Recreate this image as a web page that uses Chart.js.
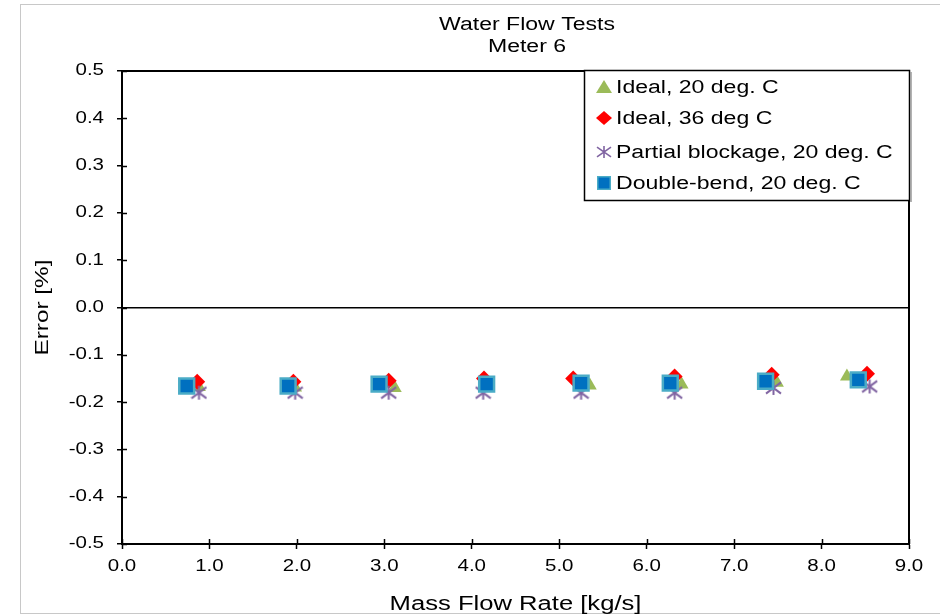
<!DOCTYPE html>
<html>
<head>
<meta charset="utf-8">
<script src="https://cdn.jsdelivr.net/npm/chart.js"></script>
<style>
  body { margin: 0; background: #fff; }
  #wrap { width: 940px; height: 616px; }
</style>
</head>
<body>
<div id="wrap"><canvas id="flowChart" width="940" height="616"></canvas></div>
<script>
// values
const seriesNames = ["Ideal, 20 deg. C", "Ideal, 36 deg C", "Partial blockage, 20 deg. C", "Double-bend, 20 deg. C"];

const ideal20X = [0.88, 1.98, 3.12, 4.15, 5.35, 6.40, 7.49, 8.29];
const ideal20Y = [-0.168, -0.169, -0.170, -0.165, -0.165, -0.163, -0.159, -0.146];

const ideal36X = [0.86, 1.96, 3.05, 4.14, 5.16, 6.32, 7.43, 8.52];
const ideal36Y = [-0.157, -0.157, -0.155, -0.150, -0.150, -0.146, -0.142, -0.140];

const blockX = [0.88, 1.98, 3.05, 4.13, 5.25, 6.32, 7.45, 8.55];
const blockY = [-0.180, -0.180, -0.180, -0.180, -0.180, -0.180, -0.170, -0.167];

const bendX = [0.74, 1.90, 2.94, 4.17, 5.25, 6.27, 7.36, 8.42];
const bendY = [-0.166, -0.166, -0.162, -0.162, -0.160, -0.160, -0.156, -0.153];

const xTicks = [0, 1, 2, 3, 4, 5, 6, 7, 8, 9];
const yTicks = [-0.5, -0.4, -0.3, -0.2, -0.1, 0, 0.1, 0.2, 0.3, 0.4, 0.5];

const sans = "'Liberation Sans', Arial, sans-serif";

function pairs(xs, ys) {
  return xs.map((x, i) => ({ x: x, y: ys[i] }));
}

// the original export has its text a bit wider than plain Arial,
// so every fillText on this canvas is stretched sideways
const canvas = document.getElementById("flowChart");
const c2d = canvas.getContext("2d");
const TEXT_SX = 1.28;
const rawFill = c2d.fillText.bind(c2d);
c2d.fillText = function (t, x, y, w) {
  c2d.save();
  c2d.translate(x, y);
  c2d.scale(TEXT_SX, 1);
  if (w === undefined || w === null) rawFill(t, 0, 0);
  else rawFill(t, 0, 0, w / TEXT_SX);
  c2d.restore();
};

// excel style asterisk marker
function makeStar(w, h, lw) {
  let c = document.createElement("canvas");
  c.width = w; c.height = h;
  let g = c.getContext("2d");
  let mx = w / 2, my = h / 2, rx = w / 2 - 1, ry = h / 2 - 1;
  g.strokeStyle = "#8064A2";
  g.lineWidth = lw;
  g.beginPath();
  g.moveTo(mx, my - ry); g.lineTo(mx, my + ry);
  g.moveTo(mx - rx, my - ry * 0.8); g.lineTo(mx + rx, my + ry * 0.8);
  g.moveTo(mx + rx, my - ry * 0.8); g.lineTo(mx - rx, my + ry * 0.8);
  g.stroke();
  return c;
}
const starBig = makeStar(17, 16, 2);
const starSmall = makeStar(16, 14, 1.6);

const frame = {
  id: "frame",
  beforeDraw(chart) {
    let ctx = chart.ctx;
    ctx.save();
    ctx.fillStyle = "#fff";
    ctx.fillRect(0, 0, chart.width, chart.height);
    ctx.strokeStyle = "#c8c8c8";
    ctx.lineWidth = 1;
    ctx.strokeRect(20.5, 4.5, 940, 609);
    ctx.restore();
  },
  afterDatasetsDraw(chart) {
    let ctx = chart.ctx, a = chart.chartArea;
    let xs = chart.scales.x, ys = chart.scales.y;
    ctx.save();
    ctx.strokeStyle = "#000";
    ctx.lineWidth = 2;
    ctx.strokeRect(a.left, a.top, a.right - a.left, a.bottom - a.top);
    ctx.lineWidth = 1.5;
    ctx.beginPath();
    yTicks.forEach(v => {
      let p = Math.round(ys.getPixelForValue(v)) + 0.5;
      ctx.moveTo(a.left, p); ctx.lineTo(a.left + 5, p);
    });
    xTicks.forEach(v => {
      let p = Math.round(xs.getPixelForValue(v)) + 0.5;
      ctx.moveTo(p, a.bottom); ctx.lineTo(p, a.bottom - 5);
    });
    ctx.stroke();

    // titles
    ctx.fillStyle = "#000";
    ctx.font = "18px " + sans;
    ctx.textAlign = "center";
    ctx.textBaseline = "middle";
    ctx.fillText("Water Flow Tests", 527, 25);
    ctx.fillText("Meter 6", 527, 47);

    // legend box
    let bx = 584, by = 70, bw = 325, bh = 130;
    ctx.fillStyle = "#fff";
    ctx.fillRect(bx, by, bw, bh);
    ctx.strokeStyle = "#000";
    ctx.lineWidth = 1.5;
    ctx.strokeRect(bx + 0.5, by + 0.5, bw, bh);
    ctx.strokeStyle = "#999";
    ctx.beginPath();
    ctx.moveTo(bx + bw + 2, by + 2); ctx.lineTo(bx + bw + 2, by + bh + 2);
    ctx.stroke();

    let rows = [87, 118, 152, 183];
    let mx = 604;
    ctx.font = "18px " + sans;
    ctx.textAlign = "left";
    ctx.textBaseline = "middle";
    rows.forEach((ry, i) => {
      if (i === 0) {
        ctx.fillStyle = "#9BBB59";
        ctx.beginPath();
        ctx.moveTo(mx, ry - 7); ctx.lineTo(mx + 8, ry + 6); ctx.lineTo(mx - 8, ry + 6);
        ctx.closePath(); ctx.fill();
      } else if (i === 1) {
        ctx.fillStyle = "#FF0000";
        ctx.beginPath();
        ctx.moveTo(mx, ry - 7); ctx.lineTo(mx + 8, ry); ctx.lineTo(mx, ry + 7); ctx.lineTo(mx - 8, ry);
        ctx.closePath(); ctx.fill();
      } else if (i === 2) {
        ctx.drawImage(starSmall, mx - 8, ry - 7);
      } else {
        ctx.fillStyle = "#4BACC6";
        ctx.fillRect(mx - 7, ry - 7, 14, 14);
        ctx.fillStyle = "#0070C0";
        ctx.fillRect(mx - 5.5, ry - 5.5, 11, 11);
      }
      ctx.fillStyle = "#000";
      ctx.fillText(chart.data.datasets[i].label, 616, ry + 1);
    });
    ctx.restore();
  }
};

new Chart(canvas, {
  type: "scatter",
  data: {
    datasets: [
      {
        label: seriesNames[0],
        data: pairs(ideal20X, ideal20Y),
        pointStyle: "triangle",
        pointRadius: 8,
        backgroundColor: "#9BBB59",
        borderColor: "#9BBB59",
        borderWidth: 0,
        order: 4
      },
      {
        label: seriesNames[1],
        data: pairs(ideal36X, ideal36Y),
        pointStyle: "rectRot",
        pointRadius: 8,
        backgroundColor: "#FF0000",
        borderColor: "#FF0000",
        borderWidth: 0,
        order: 3
      },
      {
        label: seriesNames[2],
        data: pairs(blockX, blockY),
        pointStyle: starBig,
        pointRadius: 9,
        order: 2
      },
      {
        label: seriesNames[3],
        data: pairs(bendX, bendY),
        pointStyle: "rect",
        pointRadius: 10.5,
        backgroundColor: "#0070C0",
        borderColor: "#4BACC6",
        borderWidth: 2.5,
        order: 1
      }
    ]
  },
  options: {
    responsive: false,
    animation: false,
    layout: { padding: { top: 71, right: 31, left: 0, bottom: 0 } },
    plugins: {
      legend: { display: false },
      title: { display: false },
      tooltip: { enabled: false }
    },
    scales: {
      x: {
        type: "linear",
        min: 0,
        max: 9,
        afterFit(s) { s.height = 72; },
        afterBuildTicks(s) { s.ticks = xTicks.map(v => ({ value: v })); },
        ticks: {
          color: "#000",
          padding: 8,
          font: { family: sans, size: 16 },
          callback: v => v.toFixed(1)
        },
        grid: { drawOnChartArea: false, tickLength: 5, tickColor: "#000", tickWidth: 1.5 },
        border: { display: true, color: "#000", width: 2 },
        title: {
          display: true,
          text: "Mass Flow Rate [kg/s]",
          color: "#000",
          font: { family: sans, size: 20 },
          padding: { top: 0, bottom: 0 }
        }
      },
      y: {
        type: "linear",
        min: -0.5,
        max: 0.5,
        afterFit(s) { s.width = 122; },
        afterBuildTicks(s) { s.ticks = yTicks.map(v => ({ value: v })); },
        ticks: {
          color: "#000",
          padding: 13,
          font: { family: sans, size: 16 },
          callback: v => v.toFixed(1)
        },
        grid: {
          color: c => (c.tick && Math.abs(c.tick.value) < 1e-9) ? "#000" : "rgba(0,0,0,0)",
          lineWidth: 1.5,
          tickLength: 5,
          tickColor: "#000",
          tickWidth: 1.5
        },
        border: { display: true, color: "#000", width: 2 },
        title: {
          display: true,
          text: "Error [%]",
          color: "#000",
          font: { family: sans, size: 19 },
          padding: { top: 31, bottom: 0 }
        }
      }
    }
  },
  plugins: [frame]
});
</script>
</body>
</html>
